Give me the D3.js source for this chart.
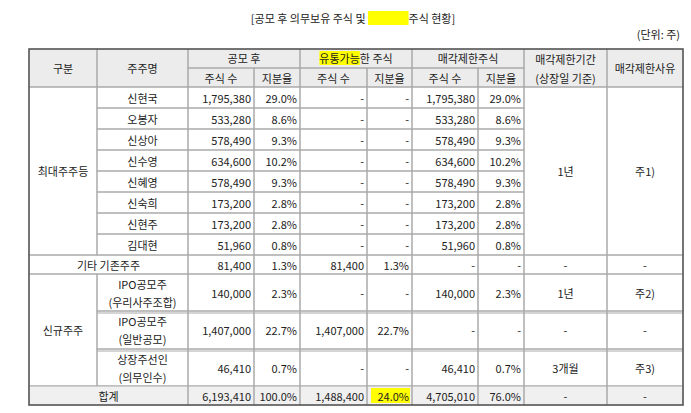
<!DOCTYPE html><html><head><meta charset="utf-8">
<script src="https://cdn.jsdelivr.net/npm/d3@7"></script>
<style>body{margin:0;background:#fff}text{font-family:"Noto Sans CJK KR";font-size:11px;fill:#222}</style></head><body>
<svg id="c" width="691" height="413"></svg>
<script>
const names=["신현국","오봉자","신상아","신수영","신혜영","신숙희","신현주","김대현"];
const postShares=[1795380,533280,578490,634600,578490,173200,173200,51960];
const postPct=["29.0%","8.6%","9.3%","10.2%","9.3%","2.8%","2.8%","0.8%"];
const otherRow=[81400,"1.3%",81400,"1.3%"];
const newNames=[["IPO공모주","(우리사주조합)"],["IPO공모주","(일반공모)"],["상장주선인","(의무인수)"]];
const newPost=[140000,1407000,46410], newPostPct=["2.3%","22.7%","0.7%"];
const newFree=[null,1407000,null], newFreePct=[null,"22.7%",null];
const newLock=[140000,null,46410], newLockPct=["2.3%",null,"0.7%"];
const newPeriod=["1년","-","3개월"], newReason=["주2)","-","주3)"];
const total=[6193410,"100.0%",1488400,"24.0%",4705010,"76.0%"];

const svg=d3.select("#c");
const X=[29,97,188,254,300,367,412,478,524,607,683];
const fmt=d3.format(",");
const v=d=>d==null?"-":(typeof d==="number"?fmt(d):d);
const rh=21; const majorTop=87, majorBot=87+8*rh;
const Y=[majorBot,274,311,349,386,405];
const hl=svg.append("g");

function rect(x0,x1,y0,y1,fill){svg.append("rect").attr("x",x0).attr("y",y0).attr("width",x1-x0).attr("height",y1-y0).attr("fill",fill||"none").attr("stroke","#aaa").attr("stroke-width",1);}
function txt(s,x,y,anchor){return svg.append("text").attr("x",x).attr("y",y).attr("text-anchor",anchor||"middle").attr("dominant-baseline","central").text(s);}
function cellNum(s,c,y0,y1){txt(s,X[c+1]-3,(y0+y1)/2,"end");}
function hlText(parts,hi,cx,y){
  const t=svg.append("text").attr("x",cx).attr("y",y).attr("text-anchor","middle").attr("dominant-baseline","central");
  const sp=parts.map(p=>t.append("tspan").text(p));
  const bb=t.node().getBBox();
  let x=bb.x;for(let i=0;i<hi;i++)x+=sp[i].node().getComputedTextLength();
  const w=sp[hi].node().getComputedTextLength();
  hl.append("rect").attr("x",x).attr("y",y-7).attr("width",w).attr("height",14).attr("fill","#ffff00");
}
hlText(["[공모 후 의무보유 주식 및 ","유통가능","주식 현황]"],1,353,18);
txt("(단위: 주)",680,34,"end");

// header
svg.append("rect").attr("x",X[0]).attr("y",49).attr("width",X[10]-X[0]).attr("height",38).attr("fill","#ececec");
svg.node().appendChild(hl.node());
rect(X[0],X[1],49,87);txt("구분",(X[0]+X[1])/2,68);
rect(X[1],X[2],49,87);txt("주주명",(X[1]+X[2])/2,68);
const groups=["공모 후","유통가능한 주식","매각제한주식"];
groups.forEach((g,i)=>{const a=X[2+2*i],b=X[4+2*i];rect(a,b,49,68);
 if(i==1)hlText(["유통가능","한 주식"],0,(a+b)/2,58); else txt(g,(a+b)/2,58);
 rect(a,X[3+2*i],68,87);txt("주식 수",(a+X[3+2*i])/2,78);rect(X[3+2*i],b,68,87);txt("지분율",(X[3+2*i]+b)/2,78);});
rect(X[8],X[9],49,87);txt("매각제한기간",(X[8]+X[9])/2,59);txt("(상장일 기준)",(X[8]+X[9])/2,78);
rect(X[9],X[10],49,87);txt("매각제한사유",(X[9]+X[10])/2,68);

rect(X[0],X[1],majorTop,majorBot);txt("최대주주등",(X[0]+X[1])/2,(majorTop+majorBot)/2);
names.forEach((n,i)=>{const y0=majorTop+i*rh,y1=y0+rh;
 rect(X[1],X[2],y0,y1);txt(n,(X[1]+X[2])/2,(y0+y1)/2);
 const vals=[postShares[i],postPct[i],null,null,postShares[i],postPct[i]];
 vals.forEach((d,c)=>{rect(X[2+c],X[3+c],y0,y1);cellNum(v(d),2+c,y0,y1);});});
rect(X[8],X[9],majorTop,majorBot);txt("1년",(X[8]+X[9])/2,(majorTop+majorBot)/2);
rect(X[9],X[10],majorTop,majorBot);txt("주1)",(X[9]+X[10])/2,(majorTop+majorBot)/2);

rect(X[0],X[2],Y[0],Y[1]);txt("기타 기존주주",(X[0]+X[2])/2,(Y[0]+Y[1])/2);
[...otherRow,null,null].forEach((d,c)=>{rect(X[2+c],X[3+c],Y[0],Y[1]);cellNum(v(d),2+c,Y[0],Y[1]);});
rect(X[8],X[9],Y[0],Y[1]);txt("-",(X[8]+X[9])/2,(Y[0]+Y[1])/2);
rect(X[9],X[10],Y[0],Y[1]);txt("-",(X[9]+X[10])/2,(Y[0]+Y[1])/2);

rect(X[0],X[1],Y[1],Y[4]);txt("신규주주",(X[0]+X[1])/2,(Y[1]+Y[4])/2);
newNames.forEach((n,i)=>{const y0=Y[1+i],y1=Y[2+i],m=(y0+y1)/2;
 rect(X[1],X[2],y0,y1);txt(n[0],(X[1]+X[2])/2,m-9);txt(n[1],(X[1]+X[2])/2,m+9);
 [newPost[i],newPostPct[i],newFree[i],newFreePct[i],newLock[i],newLockPct[i]].forEach((d,c)=>{rect(X[2+c],X[3+c],y0,y1);cellNum(v(d),2+c,y0,y1);});
 rect(X[8],X[9],y0,y1);txt(newPeriod[i],(X[8]+X[9])/2,m);
 rect(X[9],X[10],y0,y1);txt(newReason[i],(X[9]+X[10])/2,m);
 if(i>0)svg.append("line").attr("x1",X[1]).attr("x2",X[10]).attr("y1",y0+2).attr("y2",y0+2).attr("stroke","#aaa");});

svg.append("rect").attr("x",X[0]).attr("y",Y[4]).attr("width",X[10]-X[0]).attr("height",Y[5]-Y[4]).attr("fill","#f0f0f0");
rect(X[0],X[2],Y[4],Y[5]);txt("합계",(X[0]+X[2])/2,(Y[4]+Y[5])/2);
total.forEach((d,c)=>{rect(X[2+c],X[3+c],Y[4],Y[5]);
 if(c==3)svg.append("rect").attr("x",X[5]+4).attr("y",Y[4]+2).attr("width",X[6]-X[5]-6).attr("height",Y[5]-Y[4]-4).attr("fill","#ffff00");
 cellNum(v(d),2+c,Y[4],Y[5]);});
rect(X[8],X[9],Y[4],Y[5]);txt("-",(X[8]+X[9])/2,(Y[4]+Y[5])/2);
rect(X[9],X[10],Y[4],Y[5]);txt("-",(X[9]+X[10])/2,(Y[4]+Y[5])/2);

svg.append("rect").attr("x",X[0]).attr("y",49).attr("width",X[10]-X[0]).attr("height",405-49).attr("fill","none").attr("stroke","#555").attr("stroke-width",1.5);
</script></body></html>
